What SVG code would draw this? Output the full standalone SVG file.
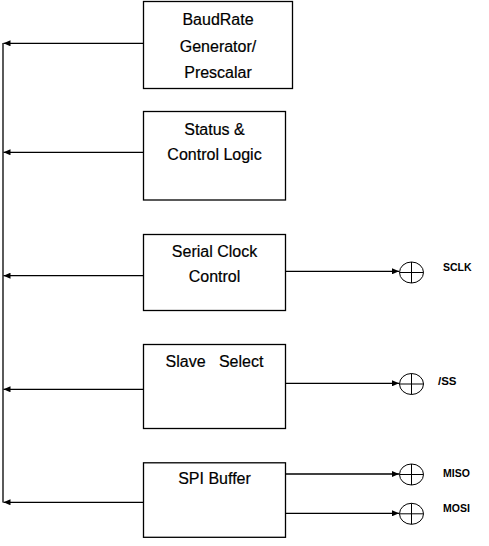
<svg xmlns="http://www.w3.org/2000/svg" width="489" height="546" viewBox="0 0 489 546">
<defs>
<style>
.box{fill:#fff;stroke:#000;stroke-width:1.3}
.t{font-family:"Liberation Sans",Arial,sans-serif;font-size:16px;fill:#000;text-anchor:middle;white-space:pre;stroke:#000;stroke-width:0.2}
.s{font-family:"Liberation Sans",Arial,sans-serif;font-size:10.5px;font-weight:bold;fill:#000}
.c{fill:none;stroke:#000;stroke-width:1.3}
.pin{fill:#fff;stroke:#000;stroke-width:1}
</style>
<marker id="ah" markerWidth="8" markerHeight="6" refX="7" refY="3" orient="auto" markerUnits="userSpaceOnUse">
<path d="M0,0 L7,3 L0,6 Z" fill="#000"/>
</marker>
</defs>
<rect width="489" height="546" fill="#fff"/>
<g id="connectors">
<path class="c" d="M3,43 V502.5"/>
<path class="c" d="M143.5,43.3 H3.5" marker-end="url(#ah)"/>
<path class="c" d="M143.5,152.3 H3.5" marker-end="url(#ah)"/>
<path class="c" d="M143.5,275.7 H3.5" marker-end="url(#ah)"/>
<path class="c" d="M143.5,389.3 H3.5" marker-end="url(#ah)"/>
<path class="c" d="M143.5,502.3 H3.5" marker-end="url(#ah)"/>
<path class="c" d="M285,271.3 H399" marker-end="url(#ah)"/>
<path class="c" d="M285,383.3 H399" marker-end="url(#ah)"/>
<path class="c" d="M285,474 H399" marker-end="url(#ah)"/>
<path class="c" d="M285,513.3 H399" marker-end="url(#ah)"/>
</g>
<g id="baudrate">
<rect class="box" x="143.5" y="1.5" width="149" height="87"/>
<text class="t" x="218" y="25">BaudRate</text>
<text class="t" x="218" y="52">Generator/</text>
<text class="t" x="218" y="77.5">Prescalar</text>
</g>
<g id="status">
<rect class="box" x="143.5" y="111.5" width="142" height="88.5"/>
<text class="t" x="214.5" y="134.5">Status &amp;</text>
<text class="t" x="214.5" y="160">Control Logic</text>
</g>
<g id="serialclock">
<rect class="box" x="143.5" y="234.5" width="142" height="76"/>
<text class="t" x="214.5" y="256.8">Serial Clock</text>
<text class="t" x="214.5" y="282.3">Control</text>
</g>
<g id="slaveselect">
<rect class="box" x="143.5" y="344.5" width="142" height="84"/>
<text class="t" x="214.5" y="366.8">Slave   Select</text>
</g>
<g id="spibuffer">
<rect class="box" x="143.5" y="462.8" width="142" height="74.5"/>
<text class="t" x="214.5" y="483.5">SPI Buffer</text>
</g>
<g id="sclk">
<ellipse class="pin" cx="411.5" cy="272.5" rx="12" ry="10.5"/>
<path class="c" style="stroke-width:1" d="M399.5,272.5 H423.5 M411.5,262 V283"/>
<text class="s" x="443" y="270.7">SCLK</text>
</g>
<g id="ss">
<ellipse class="pin" cx="411.5" cy="384" rx="12" ry="10.5"/>
<path class="c" style="stroke-width:1" d="M399.5,384 H423.5 M411.5,373.5 V394.5"/>
<text class="s" x="438" y="385" style="font-size:11.5px">/SS</text>
</g>
<g id="miso">
<ellipse class="pin" cx="411.5" cy="474.5" rx="12" ry="10.5"/>
<path class="c" style="stroke-width:1" d="M399.5,474.5 H423.5 M411.5,464 V485"/>
<text class="s" x="443" y="476.7">MISO</text>
</g>
<g id="mosi">
<ellipse class="pin" cx="411.5" cy="513.8" rx="12" ry="10.5"/>
<path class="c" style="stroke-width:1" d="M399.5,513.8 H423.5 M411.5,503.3 V524.3"/>
<text class="s" x="443" y="512.3">MOSI</text>
</g>
</svg>
